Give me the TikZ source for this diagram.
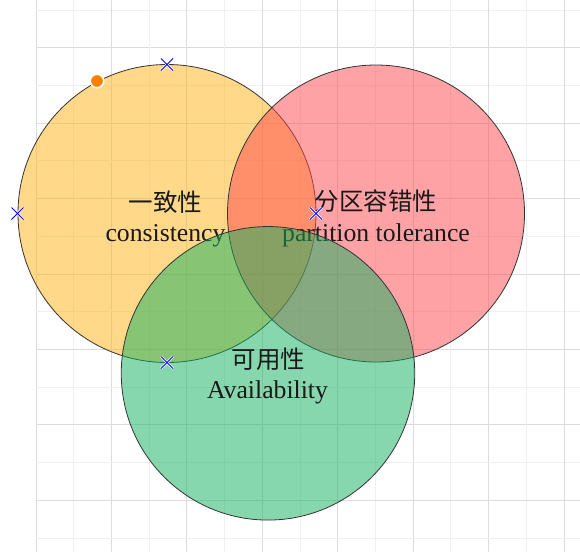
\documentclass[tikz,border=0pt]{standalone}
\usepackage{fontspec}
\usetikzlibrary{calc}
\setmainfont{Liberation Serif}
\newfontfamily\cjk{Noto Sans CJK SC}
\definecolor{gridlight}{HTML}{F0F0F0}
\definecolor{griddark}{HTML}{DCDCDC}
\definecolor{cOrange}{RGB}{255,179,21}
\definecolor{cRed}{RGB}{255,71,77}
\definecolor{cGreen}{RGB}{17,177,95}
\definecolor{edge}{HTML}{333333}
\definecolor{handle}{HTML}{FF8000}
\tikzset{
  venn/.style={circle, inner sep=0pt, outer sep=0pt, draw=edge, line width=0.8pt, fill opacity=0.5, draw opacity=1},
  zh/.style={font=\cjk\fontsize{24.5}{28}\selectfont, text=black!90, inner sep=0pt},
  en/.style={font=\fontsize{25.7}{30}\selectfont, text=black!90, inner sep=0pt, anchor=base},
  xmark/.style={blue, line width=0.8pt},
  xhalo/.style={white, line width=2.4pt},
}
\begin{document}
\begin{tikzpicture}[x=1pt,y=-1pt]
\useasboundingbox (0,0) rectangle (580,552);
\fill[white] (0,0) rectangle (580,552);
% grid
\foreach \k in {0,...,14}{
  \pgfmathsetmacro{\xx}{36+37.714*\k}
  \pgfmathsetmacro{\yy}{10+37.714*\k}
  \ifodd\k
    \draw[gridlight, line width=0.8pt] (\xx,0) -- (\xx,552);
    \draw[griddark, line width=0.8pt] (36,\yy) -- (580,\yy);
  \else
    \draw[griddark, line width=0.8pt] (\xx,0) -- (\xx,552);
    \draw[gridlight, line width=0.8pt] (36,\yy) -- (580,\yy);
  \fi
}
% circles and labels
\node[venn, fill=cOrange, minimum size=298pt] (C) at (167,213.5) {};
\node[zh] (Czh) at (165.5,202.5) {一致性};
\node[en] (Cen) at (165.5,241) {consistency};
\node[venn, fill=cRed, minimum size=297pt] (P) at (376,213.5) {};
\node[zh] (Pzh) at (376,201.5) {分区容错性};
\node[en] (Pen) at (376,241.5) {partition tolerance};
\node[venn, fill=cGreen, minimum size=293.5pt] (A) at (268,373.3) {};
\node[zh] (Azh) at (268.5,359) {可用性};
\node[en] (Aen) at (267.5,398) {Availability};
% selection markers
\coordinate (m1) at (167,64.5);
\coordinate (m2) at (17.5,213.5);
\coordinate (m3) at (316,213.5);
\coordinate (m4) at (167,362.5);
\foreach \m in {m1,m2,m3,m4}{
  \draw[xhalo] ($(\m)+(-6,-6)$) -- ($(\m)+(6,6)$);
  \draw[xhalo] ($(\m)+(-6,6)$) -- ($(\m)+(6,-6)$);
  \draw[xmark] ($(\m)+(-6,-6)$) -- ($(\m)+(6,6)$);
  \draw[xmark] ($(\m)+(-6,6)$) -- ($(\m)+(6,-6)$);
}
\node[circle, fill=handle, draw=white, line width=1.6pt, minimum size=13.5pt, inner sep=0pt] (H) at (97,81) {};
\end{tikzpicture}
\end{document}
